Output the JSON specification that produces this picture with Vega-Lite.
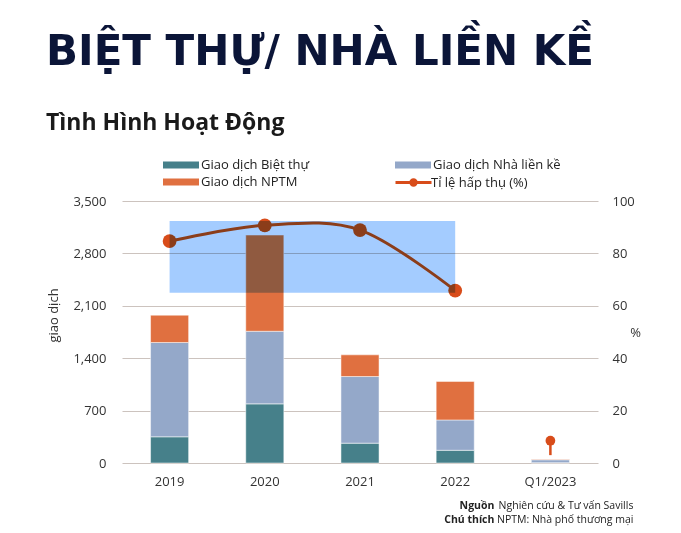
{
  "$schema": "https://vega.github.io/schema/vega-lite/v6.json",
  "width": 476,
  "height": 262,
  "autosize": {"type": "none"},
  "padding": {"left": 122, "top": 201, "right": 83, "bottom": 70},
  "background": "#ffffff",
  "config": {
    "view": {"stroke": null},
    "font": "Open Sans",
    "axis": {"labelFont": "Open Sans", "titleFont": "Open Sans"}
  },
  "title": {
    "text": "BIỆT THỰ/ NHÀ LIỀN KỀ",
    "subtitle": "Tình Hình Hoạt Động",
    "anchor": "start",
    "frame": "group",
    "dx": -76,
    "font": "DejaVu Sans",
    "fontSize": 42,
    "fontWeight": "bold",
    "color": "#0B1538",
    "subtitleFont": "Open Sans",
    "subtitleFontSize": 23,
    "subtitleFontWeight": "bold",
    "subtitleColor": "#1A1A1A",
    "subtitlePadding": 38,
    "offset": 20
  },
  "datasets": {
    "trans": [
      {"period": "2019", "type": "Giao dịch Biệt thự", "order": 1, "value": 350},
      {"period": "2019", "type": "Giao dịch Nhà liền kề", "order": 2, "value": 1260},
      {"period": "2019", "type": "Giao dịch NPTM", "order": 3, "value": 365},
      {"period": "2020", "type": "Giao dịch Biệt thự", "order": 1, "value": 790},
      {"period": "2020", "type": "Giao dịch Nhà liền kề", "order": 2, "value": 970},
      {"period": "2020", "type": "Giao dịch NPTM", "order": 3, "value": 1285},
      {"period": "2021", "type": "Giao dịch Biệt thự", "order": 1, "value": 265},
      {"period": "2021", "type": "Giao dịch Nhà liền kề", "order": 2, "value": 890},
      {"period": "2021", "type": "Giao dịch NPTM", "order": 3, "value": 290},
      {"period": "2022", "type": "Giao dịch Biệt thự", "order": 1, "value": 170},
      {"period": "2022", "type": "Giao dịch Nhà liền kề", "order": 2, "value": 405},
      {"period": "2022", "type": "Giao dịch NPTM", "order": 3, "value": 515},
      {"period": "Q1/2023", "type": "Giao dịch Biệt thự", "order": 1, "value": 5},
      {"period": "Q1/2023", "type": "Giao dịch Nhà liền kề", "order": 2, "value": 38},
      {"period": "Q1/2023", "type": "Giao dịch NPTM", "order": 3, "value": 7}
    ],
    "rate": [
      {"period": "2019", "rate": 84.7, "series": "Tỉ lệ hấp thụ (%)"},
      {"period": "2020", "rate": 90.7, "series": "Tỉ lệ hấp thụ (%)"},
      {"period": "2021", "rate": 88.9, "series": "Tỉ lệ hấp thụ (%)"},
      {"period": "2022", "rate": 65.8, "series": "Tỉ lệ hấp thụ (%)"}
    ],
    "q1": [
      {"period": "Q1/2023", "rate": 8.5, "low": 3}
    ],
    "box": [
      {"from": "2019", "to": "2022", "top": 92.4, "bottom": 65}
    ],
    "footer": [
      {"bold": "Nguồn\nChú thích", "plain": "Nghiên cứu & Tư vấn Savills\nNPTM: Nhà phố thương mại"}
    ]
  },
  "layer": [
    {
      "layer": [
        {
          "data": {"name": "trans"},
          "mark": {"type": "bar", "stroke": "#ffffff", "strokeWidth": 0.5},
          "encoding": {
            "x": {
              "field": "period",
              "type": "nominal",
              "sort": null,
              "scale": {"domain": ["2019", "2020", "2021", "2022", "Q1/2023"], "paddingInner": 0.6, "paddingOuter": 0.3},
              "axis": {"title": null, "labelAngle": 0, "domain": false, "ticks": false, "labelPadding": 12, "labelFontSize": 13, "labelColor": "#333333"}
            },
            "y": {
              "field": "value",
              "type": "quantitative",
              "stack": "zero",
              "scale": {"domain": [0, 3500]},
              "axis": {
                "title": "giao dịch",
                "values": [0, 700, 1400, 2100, 2800, 3500],
                "format": ",d",
                "grid": true,
                "gridColor": "#CCC3BE",
                "domain": false,
                "ticks": false,
                "labelPadding": 16,
                "labelFontSize": 13,
                "labelColor": "#333333",
                "titleFontSize": 13,
                "titleFontWeight": "normal",
                "titleColor": "#333333",
                "titlePadding": 12,
                "titleY": 114
              }
            },
            "color": {
              "field": "type",
              "type": "nominal",
              "scale": {
                "domain": ["Giao dịch Biệt thự", "Giao dịch Nhà liền kề", "Giao dịch NPTM"],
                "range": ["#46808A", "#94A8C9", "#E07040"]
              },
              "legend": {
                "title": null,
                "orient": "none",
                "direction": "horizontal",
                "legendX": 50,
                "legendY": -45,
                "columns": 2,
                "columnPadding": 85,
                "rowPadding": 1,
                "padding": 0,
                "symbolSize": 324,
                "symbolType": "M-2,-0.4H2V0.4H-2Z",
                "symbolStrokeWidth": 0,
                "labelOffset": 11,
                "labelFontSize": 13,
                "labelColor": "#222222",
                "labelFont": "Open Sans"
              }
            },
            "order": {"field": "order", "type": "quantitative"}
          }
        }
      ]
    },
    {
      "layer": [
        {
          "data": {"name": "rate"},
          "mark": {"type": "line", "interpolate": "cardinal", "strokeWidth": 3},
          "encoding": {
            "x": {"field": "period", "type": "nominal", "sort": null},
            "y": {
              "field": "rate",
              "type": "quantitative",
              "scale": {"domain": [0, 100]},
              "axis": {
                "orient": "right",
                "title": "%",
                "titleAngle": 0,
                "titleX": 37,
                "titleY": 131,
                "titleAlign": "center",
                "titleBaseline": "middle",
                "titleFontSize": 13,
                "titleFontWeight": "normal",
                "titleColor": "#333333",
                "values": [0, 20, 40, 60, 80, 100],
                "grid": false,
                "domain": false,
                "ticks": false,
                "labelPadding": 14,
                "labelFontSize": 13,
                "labelColor": "#333333"
              }
            },
            "stroke": {
              "field": "series",
              "type": "nominal",
              "scale": {"range": ["#D84C1A"]},
              "legend": {
                "title": null,
                "orient": "none",
                "legendX": 281,
                "legendY": -29,
                "padding": 0,
                "symbolSize": 324,
                "symbolType": "M-2,0H2M-0.3,0A0.3,0.3 0 1,1 0.3,0A0.3,0.3 0 1,1 -0.3,0M-0.12,0A0.12,0.12 0 1,1 0.12,0A0.12,0.12 0 1,1 -0.12,0",
                "symbolStrokeWidth": 3,
                "symbolFillColor": "#D84C1A",
                "labelOffset": 7,
                "labelFontSize": 13,
                "labelColor": "#222222",
                "labelFont": "Open Sans"
              }
            }
          }
        },
        {
          "data": {"name": "rate"},
          "mark": {"type": "circle", "size": 190, "color": "#D84C1A", "opacity": 1},
          "encoding": {
            "x": {"field": "period", "type": "nominal", "sort": null},
            "y": {"field": "rate", "type": "quantitative"}
          }
        },
        {
          "data": {"name": "q1"},
          "mark": {"type": "rule", "strokeWidth": 2.5, "color": "#D84C1A"},
          "encoding": {
            "x": {"field": "period", "type": "nominal", "sort": null},
            "y": {"field": "low", "type": "quantitative"},
            "y2": {"field": "rate"}
          }
        },
        {
          "data": {"name": "q1"},
          "mark": {"type": "circle", "size": 95, "color": "#D84C1A", "opacity": 1},
          "encoding": {
            "x": {"field": "period", "type": "nominal", "sort": null},
            "y": {"field": "rate", "type": "quantitative"}
          }
        },
        {
          "data": {"name": "box"},
          "mark": {"type": "rect", "color": "#A4CCFF", "opacity": 1, "blend": "multiply"},
          "encoding": {
            "x": {"field": "from", "type": "nominal", "bandPosition": 0.5},
            "x2": {"field": "to", "bandPosition": 0.5},
            "y": {"field": "top", "type": "quantitative"},
            "y2": {"field": "bottom"}
          }
        },
        {
          "data": {"name": "footer"},
          "mark": {"type": "text", "align": "right", "baseline": "alphabetic", "dx": 83, "dy": 46, "lineBreak": "\n", "lineHeight": 14, "fontSize": 10.5, "color": "#222222", "font": "Open Sans"},
          "encoding": {
            "x": {"datum": "Q1/2023"},
            "y": {"datum": 0},
            "text": {"field": "plain"}
          }
        },
        {
          "data": {"name": "footer"},
          "mark": {"type": "text", "align": "right", "baseline": "alphabetic", "dx": -56, "dy": 46, "lineBreak": "\n", "lineHeight": 14, "fontSize": 10.5, "fontWeight": "bold", "color": "#222222", "font": "Open Sans"},
          "encoding": {
            "x": {"datum": "Q1/2023"},
            "y": {"datum": 0},
            "text": {"field": "bold"}
          }
        }
      ]
    }
  ],
  "resolve": {"scale": {"y": "independent"}}
}
